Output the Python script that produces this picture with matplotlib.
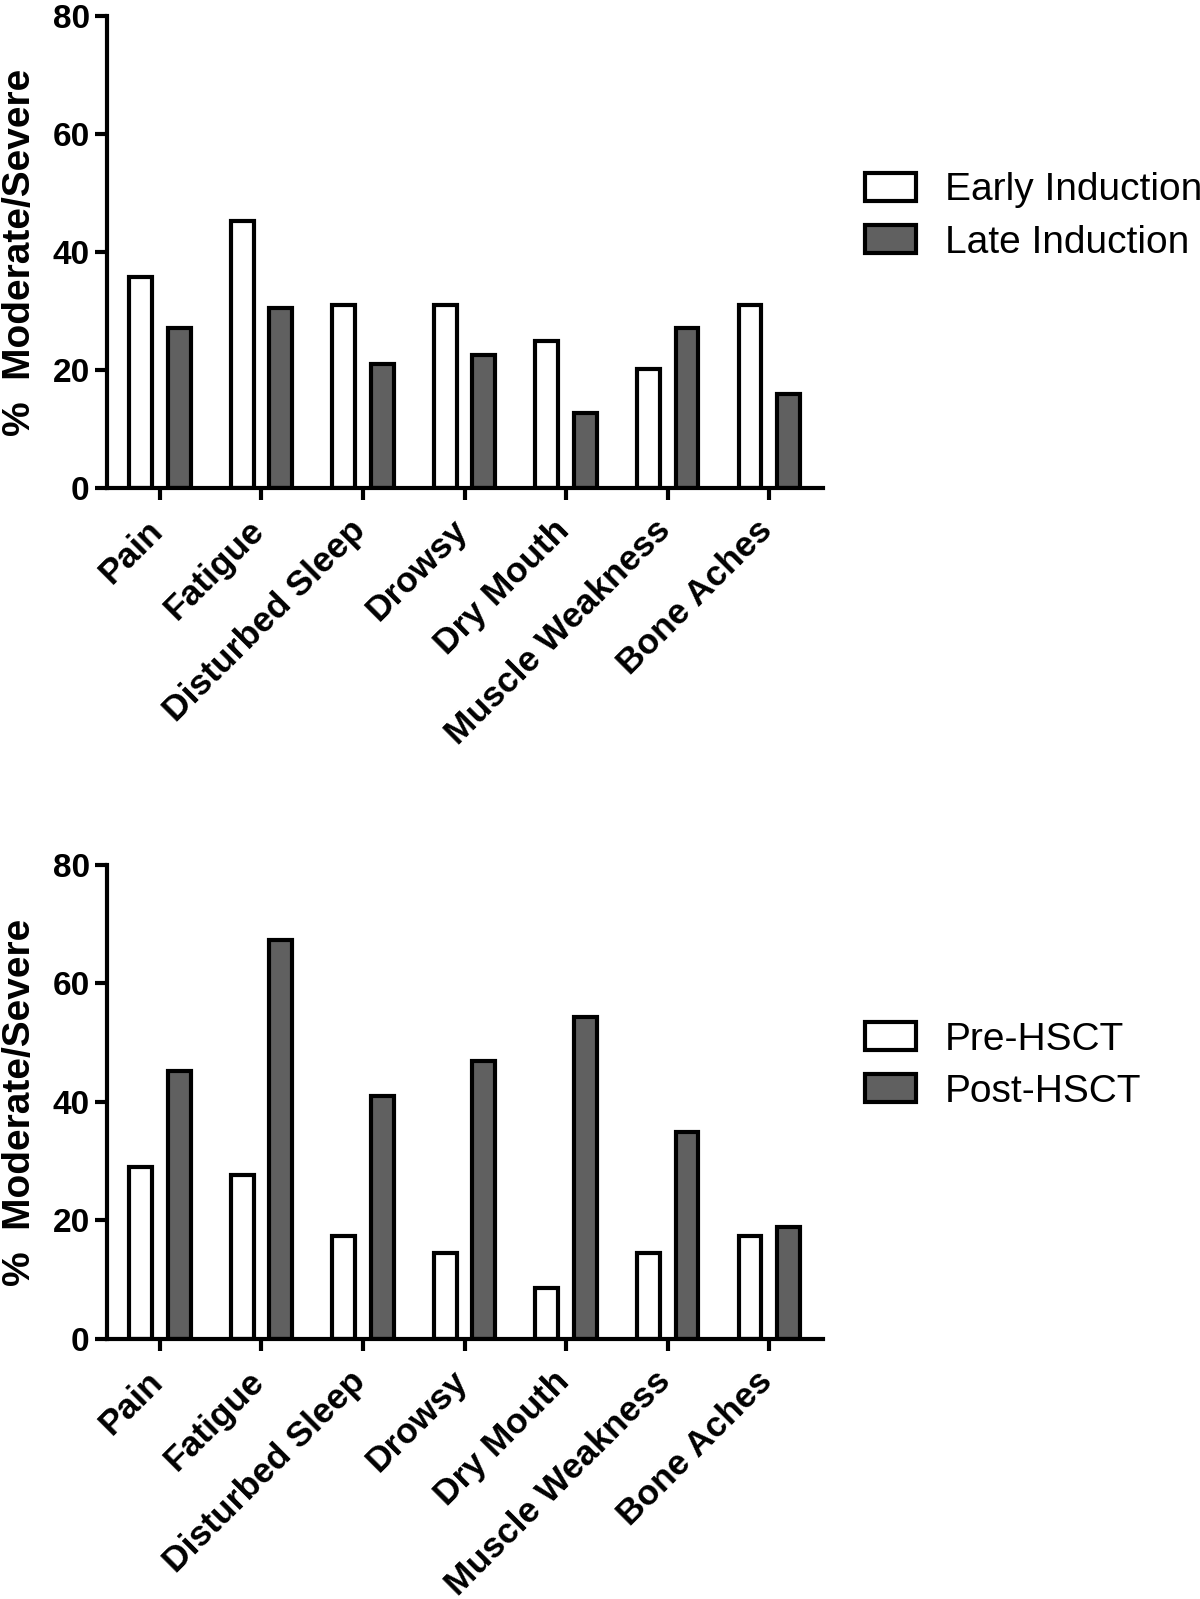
import numpy as np
import matplotlib
matplotlib.use("Agg")
import matplotlib.pyplot as plt
import matplotlib.transforms as mtransforms

plt.rcParams['font.family'] = ['Liberation Sans', 'DejaVu Sans']

# symptom categories shared by both panels
symptoms = ['Pain', 'Fatigue', 'Disturbed Sleep', 'Drowsy', 'Dry Mouth',
            'Muscle Weakness', 'Bone Aches']

# top panel: induction
early_induction = [35.7, 45.2, 31.1, 31.1, 24.9, 20.2, 31.1]
late_induction = [27.2, 30.5, 21.0, 22.5, 12.7, 27.2, 15.9]

# bottom panel: transplant
pre_hsct = [29.1, 27.7, 17.4, 14.5, 8.6, 14.5, 17.4]
post_hsct = [45.3, 67.3, 41.0, 46.9, 54.3, 35.0, 18.9]

y_ticks = [0, 20, 40, 60, 80]

fig = plt.figure(figsize=(12, 15.99), dpi=100)
ax_top = fig.add_axes([0.0892, 0.6948, 0.5967, 0.2952])
ax_bot = fig.add_axes([0.0892, 0.1626, 0.5967, 0.2965])

x = np.arange(len(symptoms))
w = 0.225
off = 0.19


def draw_panel(ax, first, second, names, legend_y):
    ax.bar(x - off, first, w, color='white', edgecolor='black', linewidth=3.0,
           label=names[0], zorder=2)
    ax.bar(x + off, second, w, color='#606060', edgecolor='black', linewidth=3.0,
           label=names[1], zorder=2)
    ax.set_xlim(-0.52, 6.53)
    ax.set_ylim(0, 80)
    ax.set_yticks(y_ticks)
    ax.set_xticks(x)
    ax.set_xticklabels([])
    # rotated category labels, ends tucked under each tick
    trans = ax.get_xaxis_transform() + mtransforms.ScaledTranslation(
        -0.14, -0.257, fig.dpi_scale_trans)
    for xi, name in zip(x, symptoms):
        ax.text(xi, 0, name, transform=trans, rotation=45, ha='right', va='top',
                rotation_mode='anchor', fontsize=25.5, fontweight='bold')
    for lab in ax.get_yticklabels():
        lab.set_fontsize(24)
        lab.set_fontweight('bold')
    ax.spines['top'].set_visible(False)
    ax.spines['right'].set_visible(False)
    ax.spines['left'].set_linewidth(3.0)
    ax.spines['bottom'].set_linewidth(3.0)
    ax.tick_params(axis='both', direction='out', length=8.5, width=3.0, pad=4)
    ax.set_ylabel('%  Moderate/Severe', fontsize=28, fontweight='bold')
    ax.yaxis.set_label_coords(-0.097, 0.5)
    ax.legend(loc='center left', bbox_to_anchor=(0.721, legend_y),
              bbox_transform=fig.transFigure, frameon=False, fontsize=28,
              handlelength=1.3, handleheight=0.72, handletextpad=0.75,
              labelspacing=0.42, borderpad=0, borderaxespad=0)
    leg = ax.get_legend()
    for p in leg.get_patches():
        p.set_linewidth(3.0)


draw_panel(ax_top, early_induction, late_induction,
           ['Early Induction', 'Late Induction'], 0.8645)
draw_panel(ax_bot, pre_hsct, post_hsct, ['Pre-HSCT', 'Post-HSCT'], 0.3335)

fig.savefig('out.png', dpi=100)
